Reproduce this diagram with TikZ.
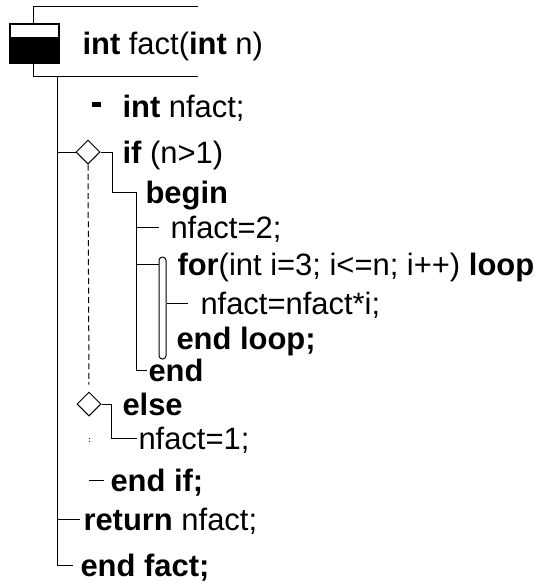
\documentclass[tikz,border=0pt]{standalone}
\usepackage{fontspec}
\setmainfont{Liberation Sans}
\usetikzlibrary{shapes.geometric,calc}
\tikzset{every picture/.style={line width=0.75pt}}

\begin{document}
\begin{tikzpicture}[x=0.75pt,y=0.75pt,yscale=-1,xscale=1,
  code/.style={anchor=west,inner sep=0pt,text height=16.5pt,text depth=0pt,font=\fontsize{23.2}{28}\selectfont},
  cond/.style={draw,shape=diamond,aspect=1,inner sep=0pt,minimum size=18pt,fill=white},
  guard/.style={dash pattern=on 4.5pt off 2.6pt}]
\path[use as bounding box] (0,0) rectangle (535,582);

%Header box
\draw[line width=1pt] (10,24) rectangle (59,63);
\fill (10,37) rectangle (59,63);
\draw (33,24) -- (33,6) -- (198,6);
\draw (33,63) -- (33,76) -- (198,76);
\coordinate (top) at (57,76);

%Text lines
\node[code] (head) at (82,43) {\textbf{int} fact(\textbf{int} n)};
\node[code] (decl) at (122,106) {\textbf{int} nfact;};
\node[code] (if) at (122,152) {\textbf{if} (n>1)};
\node[code] (begin) at (145,192) {\textbf{begin}};
\node[code] (n2) at (170,227) {nfact=2;};
\node[code] (for) at (177,264) {\textbf{for}(int i=3; i<=n; i++) \textbf{loop}};
\node[code] (body) at (200,303) {nfact=nfact*i;};
\node[code] (endloop) at (176,338) {\textbf{end loop;}};
\node[code] (endb) at (148,370) {\textbf{end}};
\node[code] (else) at (122,404) {\textbf{else}};
\node[code] (n1) at (138,438) {nfact=1;};
\node[code] (endif) at (110,480) {\textbf{end if;}};
\node[code] (ret) at (83,519) {\textbf{return} nfact;};
\node[code] (endfact) at (80,565) {\textbf{end fact;}};

%Shape: Diamond
\node[cond] (ifd) at (88,152) {};
\node[cond] (elsed) at (89,404) {};
%Shape: loop bar
\node[draw,rounded corners=2.6pt,minimum width=5.25pt,minimum height=76.5pt,inner sep=0pt] (loopbar) at (162.5,308) {};

%Spine
\draw (top) |- ($(endfact.west)+(-7,0)$);
\draw (ifd.west -| top) -- (ifd.west);
\draw (ret.west -| top) -- ($(ret.west)+(-3,0)$);
\draw[line width=3.75pt] ($(decl.west)+(-30,-2)$) -- ++(9,0);

%if branch
\coordinate (bx) at ($(begin.west)+(-9,0)$);
\draw (ifd.east) -- ++(12,0) |- (bx) |- ($(endb.west)+(-1,0)$);
\draw (bx |- n2.west) -- ($(n2.west)+(-11,0)$);
\draw (bx |- for.west) -- (loopbar.west |- for.west);
\draw (loopbar.east |- body.west) -- ($(body.west)+(-12,0)$);

%else branch
\draw (elsed.east) -- ++(10,0) |- ($(n1.west)+(-1,0)$);
\draw[guard] (ifd.south) -- ($(elsed.north)+(0,-7)$);
\draw[dash pattern=on 0.75pt off 1.5pt] ($(elsed.south)+(0,21)$) -- ++(0,4);
\draw ($(endif.west)+(-21,0)$) -- ($(endif.west)+(-6,0)$);

\end{tikzpicture}
\end{document}
